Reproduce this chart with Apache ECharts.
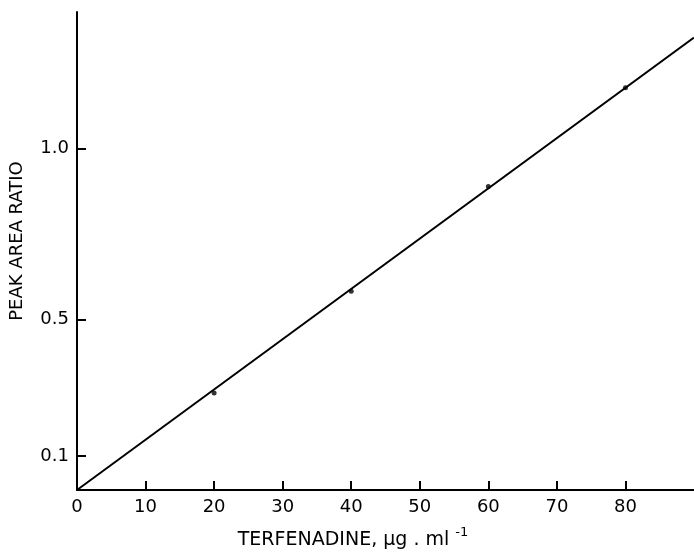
<!DOCTYPE html>
<html>
<head>
<meta charset="utf-8">
<script src="https://cdn.jsdelivr.net/npm/echarts@6/dist/echarts.min.js"></script>
<style>
  html, body { margin: 0; padding: 0; background: #fff; }
  #main { width: 694px; height: 554px; }
</style>
</head>
<body>
<div id="main"></div>
<script>
// concentration (ug/ml) vs peak area ratio
var concentrations = [20, 40, 60, 80];
var peakRatios = [0.284, 0.582, 0.889, 1.178];
// fitted line, drawn through the origin
var fitLine = [[0, 0], [90, 1.325]];
var xTicks = [0, 10, 20, 30, 40, 50, 60, 70, 80];
var yTicks = [0.1, 0.5, 1.0];

var font = "DejaVu Sans";
var myChart = echarts.init(document.getElementById("main"));

var option = {
  animation: false,
  backgroundColor: "#fff",
  grid: { left: 77, right: 0, top: 12, bottom: 64 },
  xAxis: {
    type: "value",
    min: 0,
    max: 90,
    axisLine: { lineStyle: { color: "#000", width: 2 } },
    axisTick: { inside: true, length: 9, customValues: xTicks, lineStyle: { color: "#000", width: 2 } },
    axisLabel: { customValues: xTicks, margin: 8, color: "#000", fontSize: 18, fontFamily: font },
    splitLine: { show: false }
  },
  yAxis: {
    type: "value",
    min: 0,
    max: 1.4,
    axisLine: { show: true, lineStyle: { color: "#000", width: 2 } },
    axisTick: { show: true, inside: true, length: 9, customValues: yTicks, lineStyle: { color: "#000", width: 2 } },
    axisLabel: {
      customValues: yTicks,
      margin: 8,
      color: "#000",
      fontSize: 18,
      fontFamily: font,
      formatter: function (v) { return v.toFixed(1); }
    },
    splitLine: { show: false }
  },
  graphic: [
    {
      type: "text",
      x: 17,
      y: 241,
      rotation: Math.PI / 2,
      style: {
        text: "PEAK AREA RATIO",
        fill: "#000",
        font: "18px " + font,
        align: "center",
        verticalAlign: "middle"
      }
    },
    {
      type: "text",
      x: 353,
      y: 540,
      style: {
        text: "TERFENADINE, µg . ml {s|-1}",
        fill: "#000",
        font: "19px " + font,
        align: "center",
        verticalAlign: "middle",
        rich: {
          s: { fontSize: 13, fontFamily: font, fill: "#000", padding: [0, 0, 14, 0] }
        }
      }
    }
  ],
  series: [
    {
      name: "fit",
      type: "line",
      data: fitLine,
      symbol: "none",
      lineStyle: { color: "#000", width: 2 },
      z: 2
    },
    {
      name: "points",
      type: "scatter",
      data: concentrations.map(function (c, i) { return [c, peakRatios[i]]; }),
      symbolSize: 5,
      itemStyle: { color: "#000" },
      z: 3
    }
  ]
};

myChart.setOption(option);
</script>
</body>
</html>
